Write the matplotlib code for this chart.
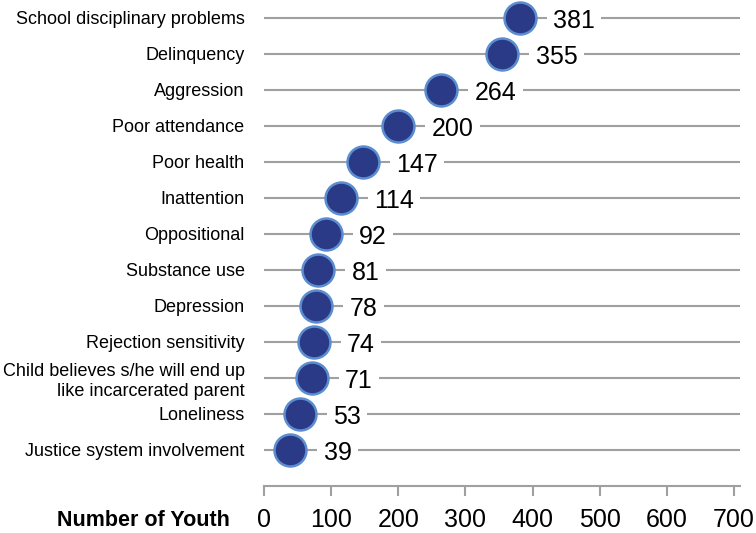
import matplotlib.pyplot as plt
import numpy as np

plt.rcParams['font.family'] = ['Liberation Sans', 'DejaVu Sans']

categories = [
    "School disciplinary problems",
    "Delinquency",
    "Aggression",
    "Poor attendance",
    "Poor health",
    "Inattention",
    "Oppositional",
    "Substance use",
    "Depression",
    "Rejection sensitivity",
    "Child believes s/he will end up\nlike incarcerated parent",
    "Loneliness",
    "Justice system involvement",
]
counts = [381, 355, 264, 200, 147, 114, 92, 81, 78, 74, 71, 53, 39]
x_ticks = [0, 100, 200, 300, 400, 500, 600, 700]

dot_color = "#2B3A87"
edge_color = "#5B8ED0"
grid_color = "#A0A0A0"

fig = plt.figure(figsize=(7.56, 5.33), dpi=100)
ax = fig.add_axes([264 / 756, 1 - 486 / 533, 476 / 756, 486 / 533])

y = np.arange(len(categories))

ax.hlines(y, 0, 709, color=grid_color, lw=1.5, zorder=1)
ax.scatter(counts, y, s=23 ** 2, color=dot_color, edgecolor=edge_color,
           linewidth=1.8, zorder=3)

for xi, yi, v in zip(counts, y, counts):
    ax.annotate(str(v), (xi, yi), xytext=(24, -2), textcoords="offset points",
                ha="left", va="center", fontsize=18, zorder=4,
                bbox=dict(boxstyle="square,pad=0.25", fc="white", ec="none"))

ax.set_xlim(0, 709)
ax.set_ylim(13, -0.5)
ax.set_yticks(y)
ax.set_yticklabels(categories, fontsize=13, ha="right")
ax.tick_params(axis="y", length=0, pad=14)
ax.set_xticks(x_ticks)
ax.set_xticklabels([str(t) for t in x_ticks], fontsize=18)
ax.tick_params(axis="x", direction="out", length=7, width=1.5,
               color=grid_color, pad=9)

for side in ["top", "right", "left"]:
    ax.spines[side].set_visible(False)
ax.spines["bottom"].set_color(grid_color)
ax.spines["bottom"].set_linewidth(1.5)

fig.text(230 / 756, 1 - 520 / 533, "Number of Youth", fontsize=15.5,
         fontweight="bold", ha="right", va="center")

fig.savefig("out.png", dpi=100)
